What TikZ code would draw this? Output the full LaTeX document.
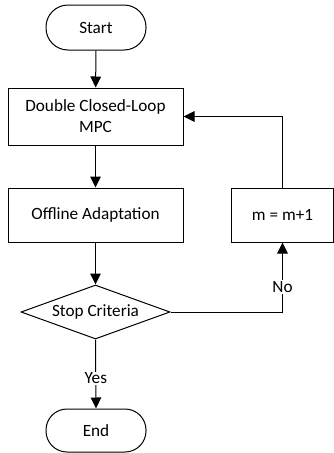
\documentclass[tikz,border=0pt]{standalone}
\usepackage{fontspec}
\setmainfont{Carlito}
\usetikzlibrary{arrows.meta,shapes.geometric}
\begin{document}
\begin{tikzpicture}[x=1pt,y=-1pt,
  base/.style={draw=black,line width=1pt,font=\fontsize{17.2}{21}\selectfont,inner sep=0pt,align=center},
  term/.style={base,minimum width=100pt,minimum height=45pt,rounded corners=22pt},
  procbox/.style={base,minimum width=175pt,minimum height=55pt},
  decide/.style={base,diamond,minimum width=149pt,minimum height=54pt},
  lbl/.style={fill=white,inner sep=1pt,font=\fontsize{17.2}{21}\selectfont},
  conn/.style={line width=1pt,-{Triangle[width=10.5pt,length=11pt]}}]
\useasboundingbox (0,0) rectangle (334,453);
\node[term] (start) at (96,27.5) {Start};
\node[procbox,minimum height=57pt] (mpc) at (95.5,116.5) {Double Closed-Loop\\MPC};
\node[procbox,minimum height=54pt] (off) at (95.5,215) {Offline Adaptation};
\node[base,minimum width=102pt,minimum height=54pt] (inc) at (282.5,215) {m = m+1};
\node[decide,label={center:\fontsize{17.2}{21}\selectfont Stop Criteria}] (stop) at (95.5,312) {};
\node[term,minimum height=43pt,rounded corners=21pt] (end) at (96,430.5) {End};
\draw[conn] (start) -- (mpc);
\draw[conn] (mpc) -- (off);
\draw[conn] (off) -- (stop);
\draw[conn] (stop.south) -- (end.north) node[lbl,pos=0.56] {Yes};
\draw[conn] (stop.east) -| (inc.south) node[lbl,pos=0.68] {No};
\draw[conn] (inc.north) |- (mpc.east);
\end{tikzpicture}
\end{document}
